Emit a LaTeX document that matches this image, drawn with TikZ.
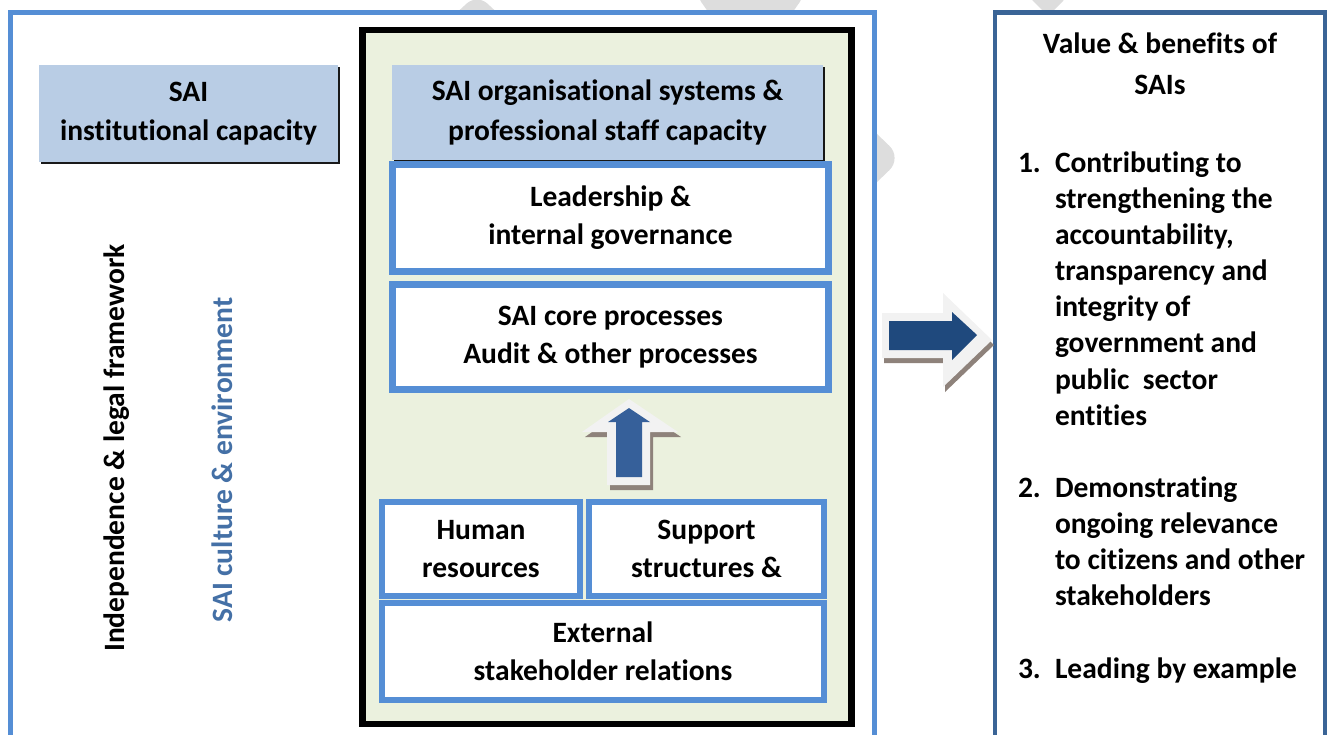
\documentclass[tikz,border=0pt]{standalone}
\usepackage{fontspec}
\setmainfont[Ligatures=NoCommon]{Carlito}
\usetikzlibrary{shadows}

\definecolor{frameblue}{HTML}{558ED5}
\definecolor{darkframe}{HTML}{3A6496}
\definecolor{headfill}{HTML}{B9CDE5}
\definecolor{panelgreen}{HTML}{EBF1DE}
\definecolor{culturetext}{HTML}{4470A6}
\definecolor{arrowdark}{HTML}{1F497D}
\definecolor{arrowmid}{HTML}{36609A}
\definecolor{arrowrim}{HTML}{F2F2F2}
\definecolor{arrowshade}{HTML}{8E827B}
\definecolor{wmark}{HTML}{DDDDDD}

\tikzset{
  every node/.style={font=\fontsize{16.8}{21.5}\selectfont\bfseries,
    inner sep=0pt, outer sep=0pt},
  head/.style={fill=headfill, align=center,
    font=\fontsize{16.8}{22.3}\selectfont\bfseries,
    drop shadow={shadow xshift=0.035cm, shadow yshift=-0.04cm,
      fill=black, opacity=0.9}},
  part/.style={draw=frameblue, line width=0.13cm, fill=white, align=center},
}

\begin{document}
\begin{tikzpicture}[x=0.02cm,y=-0.02cm]
  \useasboundingbox (0,0) rectangle (1331,734);

  % faint marks in the background
  \fill[wmark,rounded corners=8] (438,30) -- (477,-6) -- (516,30) -- cycle;
  \fill[wmark,rounded corners=4] (697,-4) -- (804,-4) -- (790,16) -- (711,16) -- cycle;
  \fill[wmark,rounded corners=10] (850,108) -- (902,158) -- (850,208) -- cycle;
  \fill[wmark,rounded corners=4] (1028,-4) -- (1068,-4) -- (1048,16) -- cycle;

  % outer frames, open at the bottom
  \fill[white] (10.5,12.5) rectangle (874.5,745);
  \fill[white] (995,12.5) rectangle (1325,745);
  \draw[frameblue,line width=0.1cm] (10.5,745) |- (874.5,12.5) -- (874.5,745);
  \draw[darkframe,line width=0.09cm] (995,745) |- (1325,12.5) -- (1325,745);

  \node[draw=black,line width=0.13cm,fill=panelgreen,minimum width=9.78cm,
    minimum height=13.88cm] (panel) at (607,377) {};

  \node[head,minimum width=5.98cm,minimum height=1.94cm] (instcap) at
    (188.5,113.5) {SAI\\institutional capacity};
  \node[head,minimum width=8.62cm,minimum height=1.9cm] (orgcap) at
    (607.5,112.5) {SAI organisational systems \&\\professional staff capacity};

  \node[part,minimum width=8.72cm,minimum height=2.14cm] (leader) at
    (610.5,218) {Leadership \&\\internal governance};
  \node[part,minimum width=8.72cm,minimum height=2.1cm] (core) at
    (610.5,337) {SAI core processes\\Audit \& other processes};
  \node[part,minimum width=3.96cm,minimum height=1.88cm] (human) at
    (481,549) {Human\\resources};
  \node[part,minimum width=4.7cm,minimum height=1.88cm] (support) at
    (706.5,549) {Support\\structures \&};
  \node[part,minimum width=8.84cm,minimum height=1.94cm] (external) at
    (603,651.5) {External\\stakeholder relations};

  \node[rotate=90] (legal) at (117,448) {Independence \& legal framework};
  \node[rotate=90,text=culturetext] (culture) at (222,460)
    {SAI culture \& environment};

  % up arrow
  \fill[arrowshade] (632,404) -- (681,437) -- (653,437) -- (653,490)
    -- (610,490) -- (610,437) -- (585,437) -- cycle;
  \fill[arrowrim] (629,399) -- (678,432) -- (650,432) -- (650,485)
    -- (607,485) -- (607,432) -- (582,432) -- cycle;
  \fill[arrowmid] (629,408) -- (650,422) -- (642,422) -- (642,477)
    -- (616,477) -- (616,422) -- (608,422) -- cycle;

  % right arrow
  \fill[arrowshade] (884,318) -- (945,318) -- (945,298) -- (994,345)
    -- (945,392) -- (945,363) -- (884,363) -- cycle;
  \fill[arrowrim] (882,313) -- (943,313) -- (943,293) -- (992,340)
    -- (943,387) -- (943,358) -- (882,358) -- cycle;
  \fill[arrowdark] (889,321) -- (952,321) -- (952,312) -- (977,335)
    -- (952,360) -- (952,350) -- (889,350) -- cycle;

  \node[align=center,font=\fontsize{16.8}{23.3}\selectfont\bfseries]
    (valuehead) at (1160,63.5) {Value \& benefits of\\SAIs};
  \node[anchor=north west,font=\fontsize{16.8}{20.56}\selectfont\bfseries]
    (benefits) at (1018,147) {%
    \begin{tabular}{@{}p{0.74cm}@{}l@{}}
      1. & Contributing to\\
         & strengthening the\\
         & accountability,\\
         & transparency and\\
         & integrity of\\
         & government and\\
         & public\ \ sector\\
         & entities\\[20.56pt]
      2. & Demonstrating\\
         & ongoing relevance\\
         & to citizens and other\\
         & stakeholders\\[20.56pt]
      3. & Leading by example
    \end{tabular}};
\end{tikzpicture}
\end{document}
